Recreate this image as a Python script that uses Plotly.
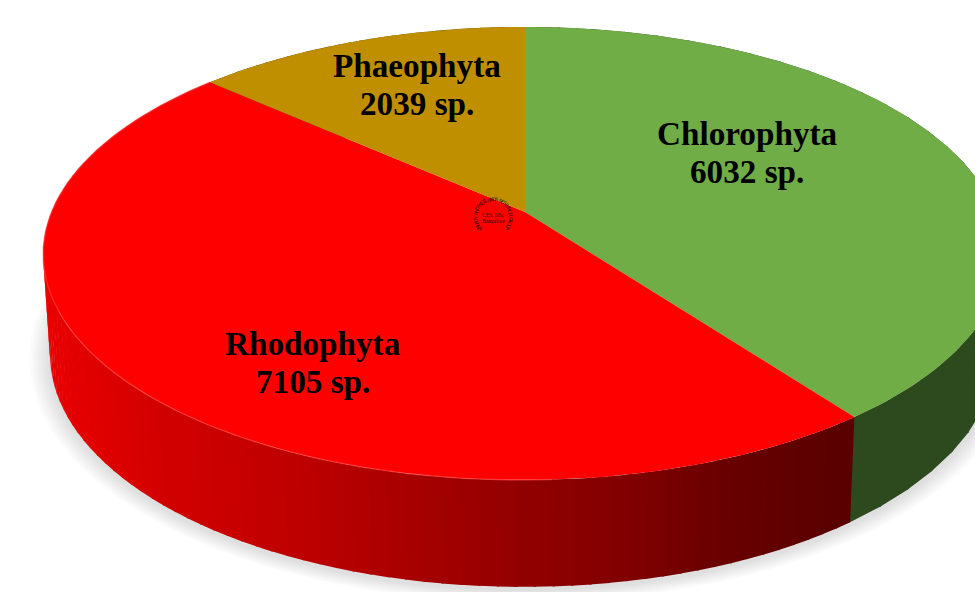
import numpy as np
import plotly.graph_objects as go

# slices, clockwise from 12 o'clock
groups = ["Chlorophyta", "Rhodophyta", "Phaeophyta"]
species = [6032, 7105, 2039]
stamp_ring = "ENERGY AND WETLANDS RESEARCH GROUP"
stamp_centre = ["CES, IISc", "Bangalore"]

top_colors = ["#70ad47", "#ff0000", "#bf8f00"]
wall_green = "#2d4a1e"
wall_brown = "#6b5000"

# red side wall shading, left to right across the page
shade_x = [40, 150, 300, 500, 650, 720, 860]
shade_r = [235, 212, 190, 150, 125, 105, 88]

# pie geometry in page pixels (axes run 0-975 and 592-0)
PERSP = 0.183
TOP = dict(cx=525, cy=212, a=472, b=219, skew=1.5)
BOTTOM = dict(cx=523, cy=311.5, a=465, b=225, skew=0)


def rim(theta, g, scale=1.0):
    u, v = np.sin(theta), np.cos(theta)
    d = 1 + PERSP * v
    return g["cx"] + scale * g["a"] * u / d + g["skew"] * (v - 1), g["cy"] - scale * g["b"] * v / d


def polygon(x, y, color):
    return go.Scatter(x=x, y=y, mode="lines", fill="toself", fillcolor=color,
                      line=dict(width=0), hoverinfo="skip", showlegend=False)


fractions = np.array(species) / sum(species)
edges = np.concatenate([[0], np.cumsum(fractions)]) * 2 * np.pi

fig = go.Figure()

# soft shadow under the disc
full = np.linspace(0, 2 * np.pi, 240)
for grow in range(16, 0, -1):
    g = dict(BOTTOM, cy=BOTTOM["cy"] + 3)
    sx, sy = rim(full, g, 1 + grow * 0.0028)
    fig.add_trace(polygon(sx, sy, "rgba(110,110,110,0.017)"))

# side walls
for i, name in enumerate(groups):
    steps = 90 if name == "Rhodophyta" else 30
    ts = np.linspace(edges[i], edges[i + 1], steps + 1)
    for t0, t1 in zip(ts[:-1], ts[1:]):
        pair = np.array([t0, t1 + 0.004])
        tx, ty = rim(pair, TOP)
        bx, by = rim(pair, BOTTOM)
        if name == "Rhodophyta":
            color = f"rgb({int(np.interp(tx.mean(), shade_x, shade_r))},0,0)"
        elif name == "Chlorophyta":
            color = wall_green
        else:
            color = wall_brown
        fig.add_trace(polygon([tx[0], tx[1], bx[1], bx[0], tx[0]],
                              [ty[0], ty[1], by[1], by[0], ty[0]], color))

# top faces
for i, name in enumerate(groups):
    ts = np.linspace(edges[i], edges[i + 1], 160)
    rx, ry = rim(ts, TOP)
    fig.add_trace(polygon(np.r_[TOP["cx"], rx, TOP["cx"]],
                          np.r_[TOP["cy"], ry, TOP["cy"]], top_colors[i]))

# light bevel along the front edge of the red slice, left part only
ts = np.linspace(edges[1], edges[2], 200)
hx, hy = rim(ts, TOP)
keep = hx < 560
fig.add_trace(go.Scatter(x=hx[keep], y=hy[keep], mode="lines", hoverinfo="skip", showlegend=False,
                         line=dict(color="rgba(255,70,70,0.5)", width=1.5)))

# labels
label_pos = [(747, 133), (313, 343), (417, 65)]
for name, n, (lx, ly) in zip(groups, species, label_pos):
    for text, yy in ((name, ly), (f"{n} sp.", ly + 38)):
        fig.add_annotation(x=lx, y=yy, text=f"<b>{text}</b>", showarrow=False,
                           font=dict(family="Liberation Serif", size=33.2, color="#000000"))

# small stamp in the middle
STAMP_X, STAMP_Y, STAMP_R = 493, 217, 18
ring_angles = np.linspace(-132, 128, len(stamp_ring))
for ch, ang in zip(stamp_ring, ring_angles):
    a = np.radians(ang)
    fig.add_annotation(x=STAMP_X + STAMP_R * np.sin(a), y=STAMP_Y - STAMP_R * np.cos(a),
                       text=ch, textangle=ang, showarrow=False,
                       font=dict(family="Liberation Serif", size=5.5, color="#111111"))
for j, line in enumerate(stamp_centre):
    fig.add_annotation(x=STAMP_X, y=STAMP_Y - 2.5 + j * 6, text=line, showarrow=False,
                       font=dict(family="Liberation Serif", size=5.5, color="#111111"))

fig.update_layout(
    width=975, height=592, margin=dict(l=0, r=0, t=0, b=0),
    paper_bgcolor="white", plot_bgcolor="white", showlegend=False,
    xaxis=dict(range=[0, 975], visible=False, fixedrange=True),
    yaxis=dict(range=[592, 0], visible=False, fixedrange=True),
)

fig.write_html("out.html", config={"displayModeBar": False},
               post_script="document.body.style.margin='0';")
